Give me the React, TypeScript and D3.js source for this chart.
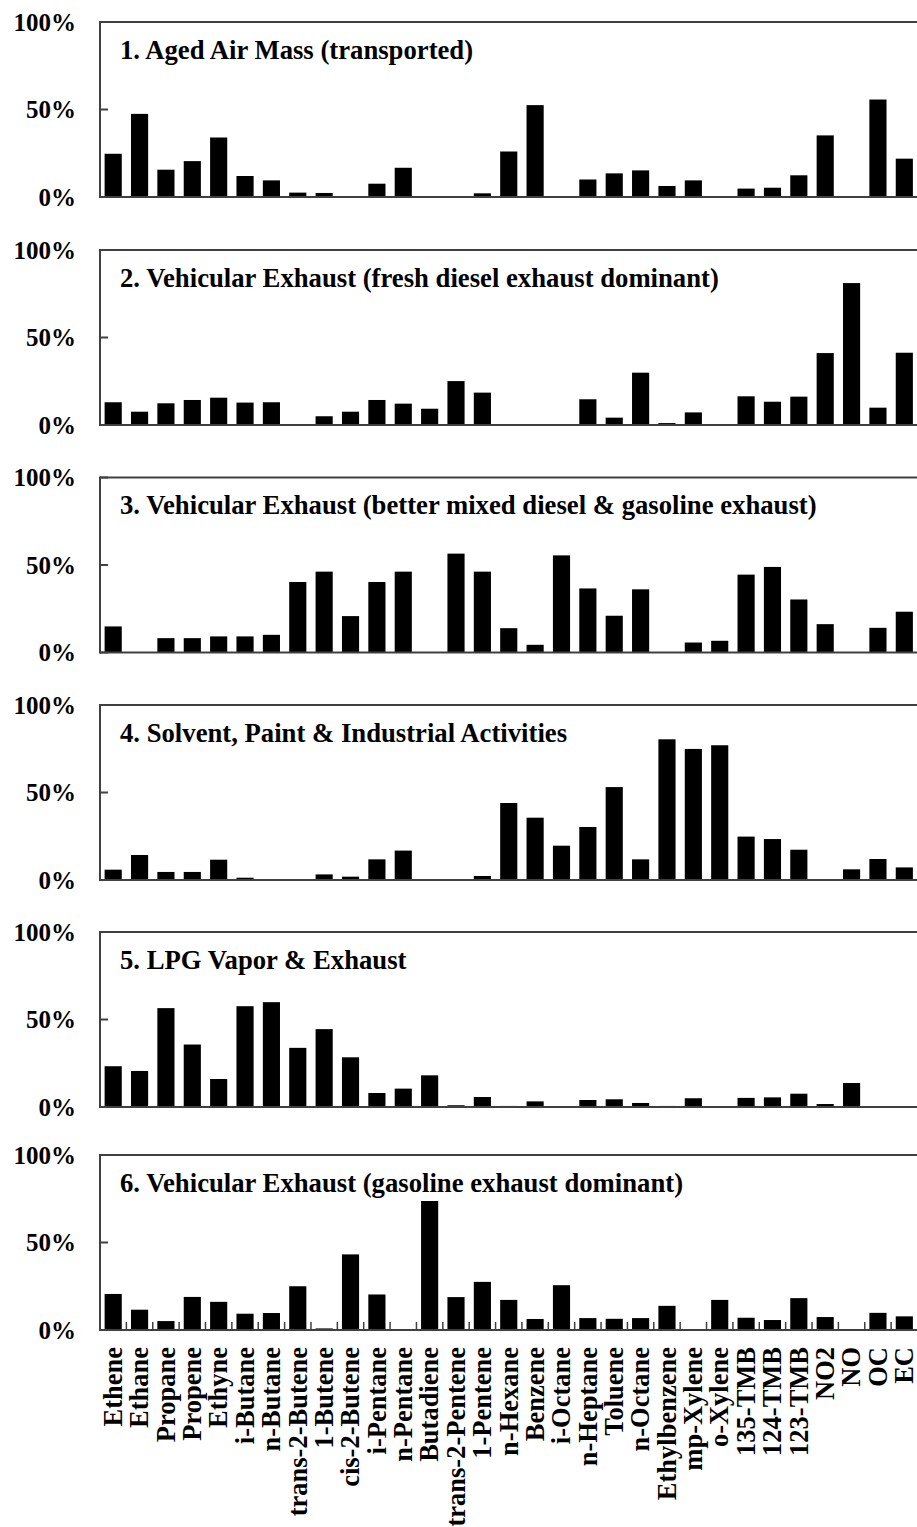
import React from "react";
import * as d3 from "d3";

// species on the x axis
const categories = [
  "Ethene", "Ethane", "Propane", "Propene", "Ethyne", "i-Butane", "n-Butane",
  "trans-2-Butene", "1-Butene", "cis-2-Butene", "i-Pentane", "n-Pentane",
  "Butadiene", "trans-2-Pentene", "1-Pentene", "n-Hexane", "Benzene",
  "i-Octane", "n-Heptane", "Toluene", "n-Octane", "Ethylbenzene", "mp-Xylene",
  "o-Xylene", "135-TMB", "124-TMB", "123-TMB", "NO2", "NO", "OC", "EC",
];

const titles = [
  "1. Aged Air Mass (transported)",
  "2. Vehicular Exhaust (fresh diesel exhaust dominant)",
  "3. Vehicular Exhaust (better mixed diesel & gasoline exhaust)",
  "4. Solvent, Paint & Industrial Activities",
  "5. LPG Vapor & Exhaust",
  "6. Vehicular Exhaust (gasoline exhaust dominant)",
];

// percent of each species explained by the factor
const agedAir = [24.7, 47.5, 15.6, 20.5, 34, 12, 9.5, 2.5, 2.3, 0, 7.6, 16.7, 0, 0, 2.1, 26, 52.5, 0, 10, 13.5, 15.2, 6.3, 9.5, 0, 4.8, 5.3, 12.4, 35.2, 0, 55.7, 21.9];
const dieselExhaust = [13, 7.6, 12.4, 14.3, 15.6, 12.8, 13, 0, 5, 7.6, 14.3, 12.2, 9.3, 25.1, 18.5, 0, 0, 0, 14.7, 4.2, 29.9, 1.1, 7.2, 0, 16.4, 13.3, 16.2, 41.1, 81.1, 9.9, 41.3];
const mixedExhaust = [14.9, 0, 8.2, 8.2, 9.2, 9.2, 10.1, 40.3, 46.2, 20.8, 40.3, 46.2, 0, 56.5, 46.2, 13.9, 4.4, 55.5, 36.6, 21, 36.1, 0, 5.7, 6.7, 44.5, 48.9, 30.3, 16.2, 0, 14.1, 23.3];
const solvent = [5.9, 14.3, 4.6, 4.6, 11.6, 1.3, 0, 0, 3.2, 1.9, 11.8, 16.8, 0, 0, 2.3, 44, 35.6, 19.6, 30.3, 53.1, 11.8, 80.4, 74.9, 77, 24.8, 23.4, 17.3, 0, 6.1, 12, 7.2];
const lpg = [23.3, 20.6, 56.5, 35.7, 16, 57.6, 59.9, 33.8, 44.5, 28.4, 8, 10.5, 18.1, 1, 5.7, 0.6, 3.2, 0, 4, 4.4, 2.3, 0.6, 5, 0, 5.2, 5.5, 7.6, 1.7, 13.7, 0, 0];
const gasolineExhaust = [20.6, 11.6, 5.1, 18.9, 16.1, 9.3, 9.7, 25, 0.9, 43.2, 20.3, 0, 73.7, 18.8, 27.5, 17.2, 6.3, 25.6, 6.8, 6.4, 6.8, 13.8, 0, 17.2, 7, 5.7, 18.2, 7.4, 0, 9.8, 7.8];

const yTicks = [0, 50, 100];

const series = [agedAir, dieselExhaust, mixedExhaust, solvent, lpg, gasolineExhaust];

// layout
const width = 917;
const height = 1527;
const left = 100;
const right = 917.5;
const panelTops = [22, 250, 477.5, 705, 932, 1155];
const panelH = 175;
const font = "'Liberation Serif', 'Times New Roman', serif";
const axisColor = "#404040";

export default function App() {
  const x = d3
    .scaleBand<string>()
    .domain(categories)
    .range([left, right])
    .paddingInner(0.35)
    .paddingOuter(0.175);
  const step = (right - left) / categories.length;
  const last = series.length - 1;

  return (
    <div style={{ position: "absolute", left: 0, top: 0 }}>
      <svg width={width} height={height} style={{ display: "block", background: "#fff" }}>
        {series.map((values, p) => {
          const top = panelTops[p];
          const y = d3.scaleLinear().domain([0, 100]).range([top + panelH, top]);
          return (
            <g key={p}>
              {/* bars */}
              {values.map((v, i) =>
                v > 0 ? (
                  <rect
                    key={i}
                    x={x(categories[i])}
                    y={y(v)}
                    width={x.bandwidth()}
                    height={y(0) - y(v)}
                    fill="#000"
                  />
                ) : null
              )}
              {/* frame */}
              <line x1={left} x2={right} y1={y(100)} y2={y(100)} stroke={axisColor} strokeWidth={2} />
              <line x1={left} x2={right} y1={y(0)} y2={y(0)} stroke={axisColor} strokeWidth={2} />
              <line x1={left} x2={left} y1={y(100) - 1} y2={y(0) + 1} stroke={axisColor} strokeWidth={2} />
              {/* y ticks */}
              {yTicks.map((t) => (
                <g key={t}>
                  <line x1={left} x2={left + 8} y1={y(t)} y2={y(t)} stroke={axisColor} strokeWidth={2} />
                  <text
                    x={76}
                    y={y(t)}
                    dy="0.35em"
                    textAnchor="end"
                    fontFamily={font}
                    fontWeight="bold"
                    fontSize={25}
                  >
                    {t}%
                  </text>
                </g>
              ))}
              <text
                x={120}
                y={top + 36.5}
                fontFamily={font}
                fontWeight="bold"
                fontSize={26.7}
              >
                {titles[p]}
              </text>
              {/* x ticks and labels on the last panel */}
              {p === last &&
                d3.range(1, categories.length).map((k) => (
                  <line
                    key={"t" + k}
                    x1={left + k * step}
                    x2={left + k * step}
                    y1={y(0)}
                    y2={y(0) - 8}
                    stroke={axisColor}
                    strokeWidth={1.5}
                  />
                ))}
              {p === last &&
                categories.map((c) => (
                  <text
                    key={c}
                    transform={`translate(${(x(c) ?? 0) + x.bandwidth() / 2},${y(0) + 17}) rotate(-90)`}
                    dy="0.33em"
                    textAnchor="end"
                    fontFamily={font}
                    fontWeight="bold"
                    fontSize={26.5}
                  >
                    {c}
                  </text>
                ))}
            </g>
          );
        })}
      </svg>
    </div>
  );
}
